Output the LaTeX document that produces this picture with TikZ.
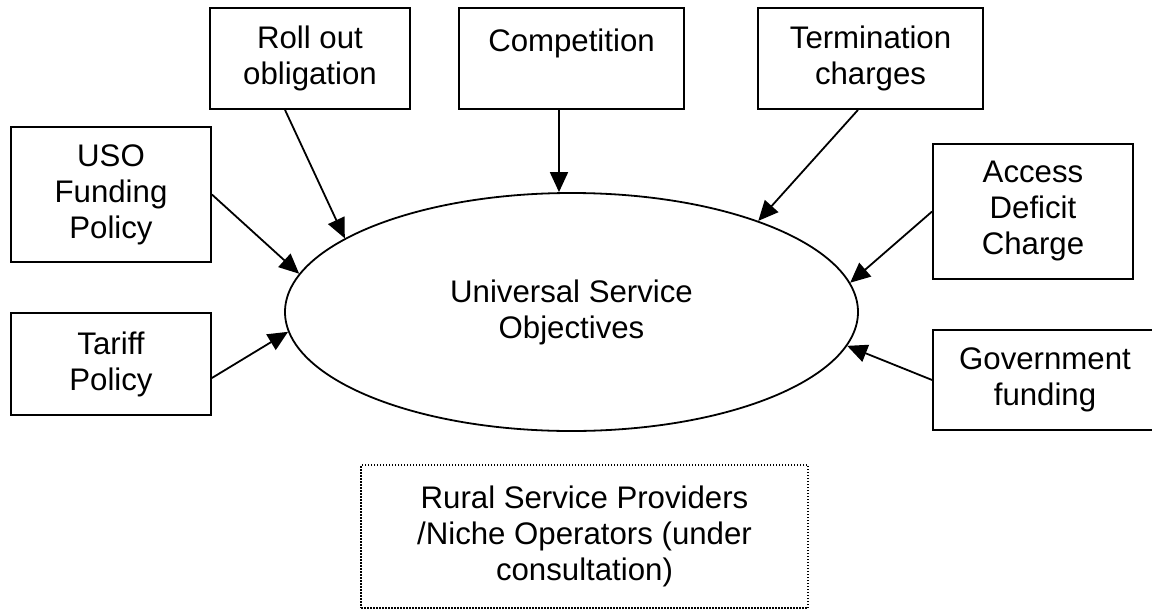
\documentclass[tikz,border=0pt]{standalone}
\usepackage{fontspec}
\setmainfont{Liberation Sans}
\usetikzlibrary{arrows.meta,shapes.geometric}

\begin{document}
\begin{tikzpicture}[x=0.5pt,y=-0.5pt,line width=0.9pt,
		font=\fontsize{15.6}{18}\selectfont,
		box/.style={draw,rectangle,align=center,inner sep=0pt},
		arr/.style={-{Triangle[length=10pt,width=9pt]}}]
				\useasboundingbox (0,0) rectangle (1152,611);
				\node[box,minimum width=100pt,minimum height=50.5pt] (roll) at (310,58.5) {Roll out\\obligation};
				\node[box,minimum width=112.5pt,minimum height=50.5pt] (comp) at (571.5,58.5) {Competition\\~};
				\node[box,minimum width=112.5pt,minimum height=50.5pt] (term) at (870.5,58.5) {Termination\\charges};
				\node[box,minimum width=100pt,minimum height=67.5pt] (uso) at (111,194.5) {USO\\Funding\\Policy};
				\node[box,minimum width=100pt,minimum height=51pt] (tariff) at (111,364) {Tariff\\Policy};
				\node[box,minimum width=100pt,minimum height=67.5pt] (access) at (1033,211.5) {Access\\Deficit\\Charge};
				\node[box,minimum width=112pt,minimum height=50pt] (gov) at (1045,380) {Government\\funding};
				\node[draw,ellipse,align=center,inner sep=0pt,minimum width=286.5pt,minimum height=119pt] (obj) at (571.5,312) {Universal Service\\Objectives};
				\node[box,line width=0.75pt,dash pattern=on 0.75pt off 0.75pt,minimum width=223.5pt,minimum height=71.5pt] (rural) at (584.5,536.5) {Rural Service Providers\\/Niche Operators (under\\consultation)};

				\draw [arr] ([xshift=-12.5pt]roll.south) to (obj.162);
				\draw [arr] ([xshift=-6.25pt]comp.south) to ([xshift=-6.25pt]comp.south |- obj.north);
				\draw [arr] ([xshift=-6.25pt]term.south) to (obj.26.5);
				\draw [arr] (uso.east) to (obj.172.6);
				\draw [arr] ([yshift=-7pt]tariff.east) to (obj.184);
				\draw [arr] (access.west) to (obj.6.7);
				\draw [arr] (gov.west) to (obj.353);
		\end{tikzpicture}
\end{document}
